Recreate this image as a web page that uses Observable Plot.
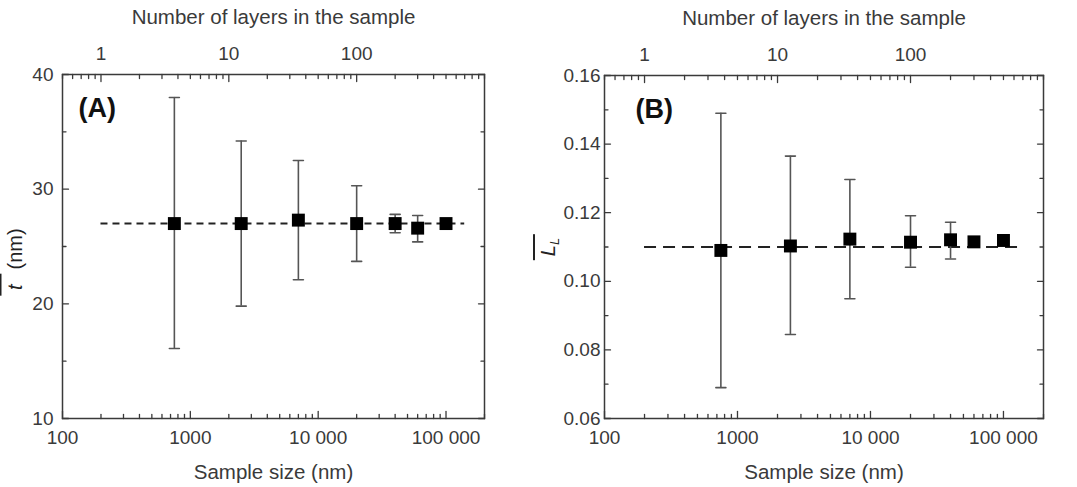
<!DOCTYPE html>
<html>
<head>
<meta charset="utf-8">
<script src="https://cdn.jsdelivr.net/npm/d3@7"></script>
<script src="https://cdn.jsdelivr.net/npm/@observablehq/plot@0.6"></script>
<style>
  body { margin: 0; background: #fff; }
  #wrap { position: relative; width: 1077px; height: 487px; overflow: hidden;
          font-family: "Liberation Sans", Arial, Helvetica, sans-serif; color: #333; background: #fff; }
  #wrap svg { position: absolute; top: 0; }
  .ytitle { position: absolute; white-space: nowrap; font-size: 20px; line-height: 1;
            transform: translate(-50%, -50%) rotate(-90deg); color: #222; }
  .ol { display: inline-block; border-top: 2.5px solid #222; padding-top: 3px; line-height: 1; }
  .ytitle sub { font-size: 13px; vertical-align: -4px; }
</style>
</head>
<body>
<div id="wrap"></div>
<script>
// ---------- data ----------
const sampleSize = [750, 2500, 7000, 20000, 40000, 60000, 100000];   // nm

// Panel A: mean thickness t (nm)
const meanT = [27.0, 27.0, 27.3, 27.0, 27.0, 26.6, 27.0];
const lowT  = [16.1, 19.8, 22.1, 23.7, 26.2, 25.4, null];
const highT = [38.0, 34.2, 32.5, 30.3, 27.8, 27.7, null];
const refT = 27.0;

// Panel B: L_L
const meanL = [0.109, 0.1103, 0.1123, 0.1114, 0.1121, 0.1115, 0.1119];
const lowL  = [0.069, 0.0845, 0.0949, 0.1041, 0.1065, null, null];
const highL = [0.149, 0.1365, 0.1297, 0.1191, 0.1172, null, null];
const refL = 0.110;

const refExtent = [200, 140000];   // sample sizes spanned by dashed reference line
const nmPerLayer = 200;            // sample size of one layer

// axes
const xDomain = [100, 200000];
const bottomTicks = [100, 1000, 10000, 100000];
const bottomTickLabels = ["100", "1000", "10 000", "100 000"];
const layerTicks = [1, 10, 100];
const layerTickLabels = ["1", "10", "100"];
const yTicksT = [10, 20, 30, 40];
const yMinorT = [15, 25, 35];
const yTicksL = [0.06, 0.08, 0.10, 0.12, 0.14, 0.16];
const yMinorL = [0.07, 0.09, 0.11, 0.13, 0.15];

// ---------- helpers ----------
const ink = "#3a3a3a";
const tickShape = {draw(ctx, l) { ctx.moveTo(0, 0); ctx.lineTo(0, -l); }};
const capShape = {draw(ctx, l) { ctx.moveTo(-l / 2, 0); ctx.lineTo(l / 2, 0); }};

// minor ticks for log axes
function minorLog(lo, hi) {
  const out = [];
  for (let p = Math.floor(Math.log10(lo)); p <= Math.ceil(Math.log10(hi)); ++p) {
    for (let k = 1; k < 10; ++k) {
      const v = k * Math.pow(10, p);
      if (v >= lo && v <= hi) out.push(v);
    }
  }
  return out;
}
const bottomMinor = minorLog(xDomain[0], xDomain[1]).filter(v => !bottomTicks.includes(v));
const layerMinor = minorLog(xDomain[0] / nmPerLayer, xDomain[1] / nmPerLayer)
  .filter(v => !layerTicks.includes(v));

function panel({mean, low, high, ref, yDomain, yTicks, yMinor, yFmt, letter, width, margins, yPad, dash, letterDx, letterDy}) {
  const rows = sampleSize.map((s, i) => ({size: s, mean: mean[i], lo: low[i], hi: high[i]}));
  const err = rows.filter(d => d.lo != null);
  const bottomLbl = new Map(bottomTicks.map((t, i) => [t, bottomTickLabels[i]]));
  const layerRows = layerTicks.map((l, i) => ({size: l * nmPerLayer, label: layerTickLabels[i]}));
  return Plot.plot({
    width, height: 487,
    marginLeft: margins[0], marginRight: margins[1], marginTop: margins[2], marginBottom: margins[3],
    x: {type: "log", domain: xDomain},
    y: {domain: yDomain},
    style: {fontFamily: '"Liberation Sans", Arial, Helvetica, sans-serif', fontSize: "19px", color: ink, background: "transparent", overflow: "visible"},
    marks: [
      // axes labels
      Plot.axisX(bottomTicks, {anchor: "bottom", tickSize: 0, tickPadding: 19, lineAnchor: "middle",
        tickFormat: d => bottomLbl.get(d), label: null, fill: ink}),
      Plot.text(layerRows, {x: "size", text: "label", frameAnchor: "top", dy: -21, lineAnchor: "middle", textAnchor: "middle", fill: ink}),
      Plot.axisY(yTicks, {anchor: "left", tickSize: 0, tickPadding: yPad, tickFormat: yFmt, label: null, fill: ink}),
      // titles
      Plot.text(["Number of layers in the sample"], {text: d => d, frameAnchor: "top", dy: -57, lineAnchor: "middle", textAnchor: "middle", fontSize: 20.5, fill: ink}),
      Plot.text(["Sample size (nm)"], {text: d => d, frameAnchor: "bottom", dy: 54, lineAnchor: "middle", textAnchor: "middle", fontSize: 20.5, fill: ink}),
      Plot.text([letter], {text: d => d, frameAnchor: "top-left", dx: letterDx, dy: letterDy, lineAnchor: "middle", textAnchor: "start", fontSize: 27, fontWeight: "bold", fill: "#111"}),
      // inward ticks
      Plot.vector(bottomTicks, {x: d => d, frameAnchor: "bottom", rotate: 0, length: 7, anchor: "start", shape: tickShape, stroke: ink, strokeWidth: 1.3}),
      Plot.vector(bottomMinor, {x: d => d, frameAnchor: "bottom", rotate: 0, length: 4, anchor: "start", shape: tickShape, stroke: ink, strokeWidth: 1.3}),
      Plot.vector(layerTicks, {x: d => d * nmPerLayer, frameAnchor: "top", rotate: 180, length: 7, anchor: "start", shape: tickShape, stroke: ink, strokeWidth: 1.3}),
      Plot.vector(layerMinor, {x: d => d * nmPerLayer, frameAnchor: "top", rotate: 180, length: 4, anchor: "start", shape: tickShape, stroke: ink, strokeWidth: 1.3}),
      Plot.vector(yTicks, {y: d => d, frameAnchor: "left", rotate: 90, length: 6, anchor: "start", shape: tickShape, stroke: ink, strokeWidth: 1.3}),
      Plot.vector(yMinor, {y: d => d, frameAnchor: "left", rotate: 90, length: 3.5, anchor: "start", shape: tickShape, stroke: ink, strokeWidth: 1.3}),
      Plot.vector(yTicks, {y: d => d, frameAnchor: "right", rotate: -90, length: 6, anchor: "start", shape: tickShape, stroke: ink, strokeWidth: 1.3}),
      Plot.vector(yMinor, {y: d => d, frameAnchor: "right", rotate: -90, length: 3.5, anchor: "start", shape: tickShape, stroke: ink, strokeWidth: 1.3}),
      // dashed reference line
      Plot.ruleY([ref], {x1: refExtent[0], x2: refExtent[1], stroke: "#222", strokeWidth: 2, strokeDasharray: dash}),
      // error bars
      Plot.ruleX(err, {x: "size", y1: "lo", y2: "hi", stroke: "#555", strokeWidth: 1.6}),
      Plot.vector(err, {x: "size", y: "lo", rotate: 0, length: 10, anchor: "start", shape: capShape, stroke: "#555", strokeWidth: 1.6}),
      Plot.vector(err, {x: "size", y: "hi", rotate: 0, length: 10, anchor: "start", shape: capShape, stroke: "#555", strokeWidth: 1.6}),
      // markers
      Plot.dot(rows, {x: "size", y: "mean", symbol: "square", r: 7.3, fill: "#000", stroke: "none"}),
      // frame
      Plot.frame({stroke: ink, strokeWidth: 1.5})
    ]
  });
}

const wrap = document.getElementById("wrap");

const svgA = panel({
  mean: meanT, low: lowT, high: highT, ref: refT,
  yDomain: [10, 40], yTicks: yTicksT, yMinor: yMinorT, yFmt: d => String(d),
  letter: "(A)", width: 538, margins: [62, 54, 74, 69], yPad: 9, dash: "7,5",
  letterDx: 16, letterDy: 34
});
svgA.style.left = "0px";
wrap.appendChild(svgA);

const svgB = panel({
  mean: meanL, low: lowL, high: highL, ref: refL,
  yDomain: [0.06, 0.16], yTicks: yTicksL, yMinor: yMinorL, yFmt: d3.format(".2f"),
  letter: "(B)", width: 539, margins: [66, 34, 75, 69], yPad: 4, dash: "12,7",
  letterDx: 31, letterDy: 34
});
svgB.style.left = "538px";
wrap.appendChild(svgB);

// y-axis titles (rotated HTML text with overlines)
const tA = document.createElement("div");
tA.className = "ytitle";
tA.style.left = "12px"; tA.style.top = "262px";
tA.innerHTML = '<span class="ol">&nbsp;<i>t</i>&nbsp;&nbsp;</span>&thinsp;(nm)';
wrap.appendChild(tA);

const tB = document.createElement("div");
tB.className = "ytitle";
tB.style.left = "547px"; tB.style.top = "247px";
tB.innerHTML = '<span class="ol">&thinsp;<i>L</i><sub><i>L</i></sub>&thinsp;</span>';
wrap.appendChild(tB);
</script>
</body>
</html>
